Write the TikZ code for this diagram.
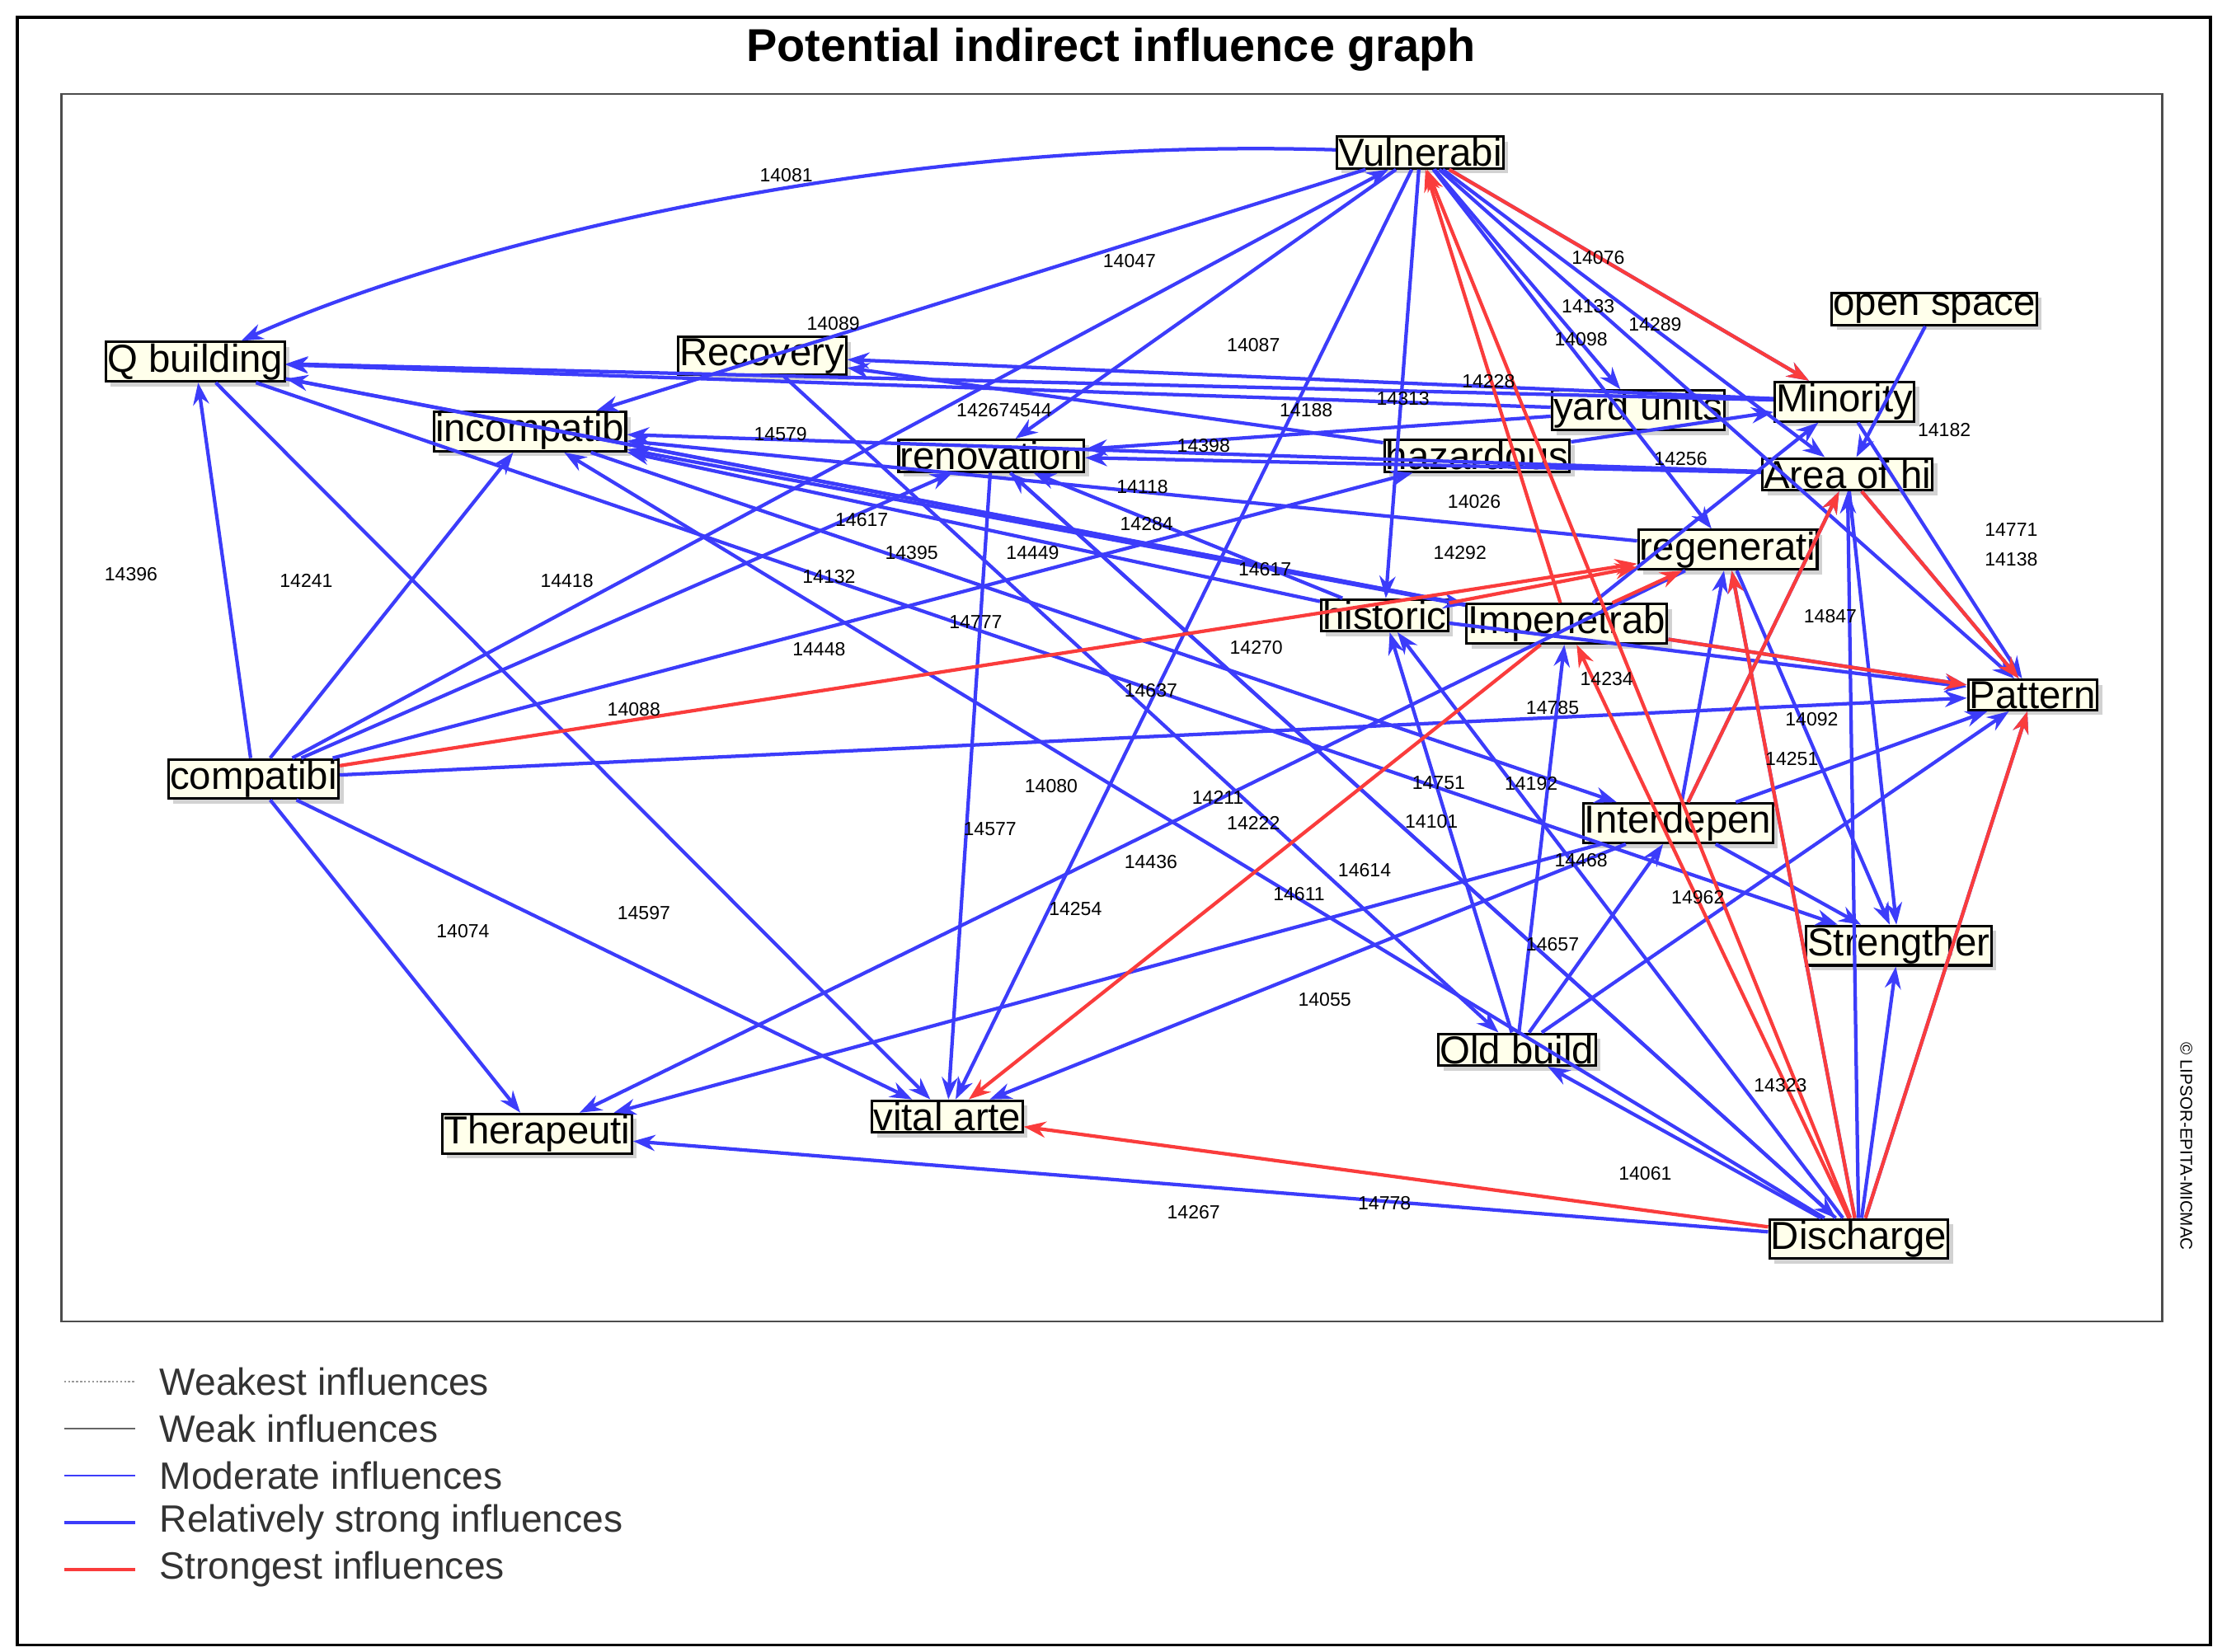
\documentclass[tikz,border=0pt]{standalone}
\usepackage{fontspec}
\setmainfont{Liberation Sans}
\usetikzlibrary{arrows.meta,shadows}
\definecolor{eb}{RGB}{60,60,250}
\definecolor{er}{RGB}{250,60,60}
\definecolor{nf}{RGB}{255,255,235}
\begin{document}
\begin{tikzpicture}[x=0.05cm,y=-0.05cm,
 n/.style={draw=black,line width=2.5pt,fill=nf,inner sep=1.5pt,font=\fontsize{39}{40}\selectfont,drop shadow={shadow xshift=5pt,shadow yshift=-5pt,fill=gray!70}},
 b/.style={draw=eb,line width=3.5pt,-{Stealth[length=22pt,width=16pt]}},
 r/.style={draw=er,line width=3.5pt,-{Stealth[length=22pt,width=16pt]}},
 lb/.style={font=\fontsize{19}{20}\selectfont,inner sep=0pt},
 lg/.style={font=\fontsize{38}{40}\selectfont,anchor=west,inner sep=0pt,text=black!80}]
\useasboundingbox (0,0) rectangle (1560,1160);
\draw[line width=3pt] (12,12) rectangle (1552,1155);
\draw[line width=2pt,black!70] (43,66) rectangle (1518,928);
\node[font=\bfseries\fontsize{46}{48}\selectfont] (title) at (780,35) {Potential indirect influence graph};
\node[rotate=-90,font=\fontsize{17}{18}\selectfont] (copy) at (1535,805) {© LIPSOR-EPITA-MICMAC};
% nodes
\node[n] (vul) at (997,107) {Vulnerabi};
\node[n] (open) at (1358,217) {open space};
\node[n] (q) at (137,254) {Q building};
\node[n] (rec) at (535,250) {Recovery};
\node[n] (yard) at (1150,288) {yard units};
\node[n] (min) at (1295,282) {Minority};
\node[n] (inc) at (372,303) {incompatib};
\node[n] (ren) at (696,320) {renovation};
\node[n] (haz) at (1037,320) {hazardous};
\node[n] (area) at (1297,333) {Area of hi};
\node[n] (reg) at (1213,386) {regenerati};
\node[n] (his) at (972,432) {historic};
\node[n] (imp) at (1100,438) {Impenetrab};
\node[n] (pat) at (1427,488) {Pattern};
\node[n] (comp) at (178,547) {compatibi};
\node[n] (int) at (1178,578) {Interdepen};
\node[n] (str) at (1333,664) {Strengther};
\node[n] (old) at (1065,737) {Old build};
\node[n] (the) at (377,796) {Therapeuti};
\node[n] (vit) at (665,784) {vital arte};
\node[n] (dis) at (1305,870) {Discharge};
% blue edges
\draw[b] (vul) .. controls (600,95) and (300,180) .. (q);
\foreach \s/\t in {vul/inc,vul/ren,vul/vit,vul/his,vul/min,vul/yard,vul/area,vul/reg,vul/pat,
 comp/q,comp/inc,comp/vul,comp/ren,comp/haz,comp/the,comp/vit,comp/pat,
 q/vit,q/imp,min/q,min/rec,yard/q,yard/ren,area/ren,area/inc,reg/inc,his/inc,imp/inc,imp/q,
 dis/inc,dis/ren,dis/the,dis/str,dis/pat,dis/his,dis/reg,dis/area,dis/old,
 int/reg,int/pat,int/str,int/the,old/int,old/pat,old/imp,old/his,
 open/area,area/pat,area/str,min/pat,imp/pat,his/pat,haz/rec,ren/vit,his/ren,reg/str,
 imp/min,int/area,haz/min,int/vit,q/str,rec/old,inc/int,ren/dis,reg/the}
 \draw[b] (\s) -- (\t);
% red edges
\foreach \s/\t in {comp/reg,imp/vul,vul/min,imp/vit,dis/vit,dis/reg,dis/imp,dis/pat,area/pat,imp/pat,dis/vul,imp/reg,his/reg,int/area}
 \draw[r] (\s) -- (\t);
% labels
\foreach \x/\y/\l in {552/123/14081,793/183/14047,585/227/14089,880/242/14087,1122/181/14076,1115/215/14133,
 1110/238/14098,1162/228/14289,985/280/14313,917/288/14188,845/313/14398,548/305/14579,705/288/142674544,
 1045/268/14228,605/365/14617,640/388/14395,725/388/14449,582/405/14132,398/408/14418,215/408/14241,
 92/403/14396,802/342/14118,805/368/14284,888/400/14617,685/437/14777,575/456/14448,882/455/14270,
 445/498/14088,808/485/14637,738/552/14080,695/582/14577,855/560/14211,880/578/14222,1010/550/14751,
 1075/550/14192,1005/577/14101,808/605/14436,958/611/14614,912/628/14611,755/638/14254,452/641/14597,
 325/654/14074,930/702/14055,1090/663/14657,1110/604/14468,1272/505/14092,1258/533/14251,1285/433/14847,
 1412/372/14771,1412/393/14138,1090/497/14785,1128/477/14234,1250/762/14323,1155/824/14061,972/845/14778,
 838/851/14267,1192/630/14962,1365/302/14182,1025/388/14292,1035/352/14026,1180/322/14256}
 {\path (\x,\y) node[lb] {\l};}
% legend
\draw[black!40,line width=2pt,dotted] (45,970) -- (95,970);
\draw[black!60,line width=2pt] (45,1003) -- (95,1003);
\draw[eb,line width=1.5pt] (45,1036) -- (95,1036);
\draw[eb,line width=3pt] (45,1069) -- (95,1069);
\draw[er,line width=3pt] (45,1102) -- (95,1102);
\node[lg] (l1) at (112,970) {Weakest influences};
\node[lg] (l2) at (112,1003) {Weak influences};
\node[lg] (l3) at (112,1036) {Moderate influences};
\node[lg] (l4) at (112,1069) {Relatively strong influences};
\node[lg] (l5) at (112,1102) {Strongest influences};
\end{tikzpicture}
\end{document}
